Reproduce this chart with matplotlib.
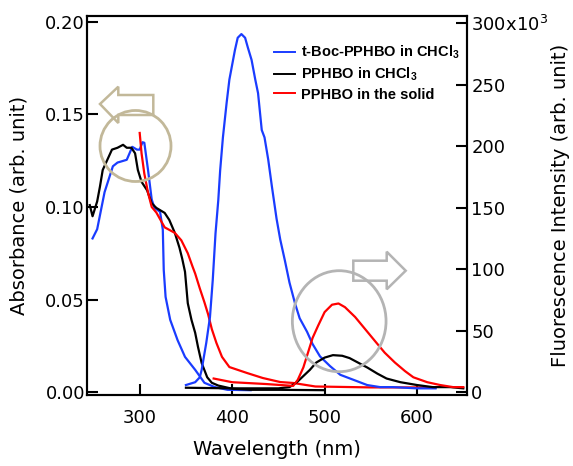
import matplotlib
matplotlib.use("Agg")
import matplotlib.pyplot as plt
from matplotlib.lines import Line2D
from matplotlib.patches import Ellipse, Polygon

plt.rcParams['font.family'] = ['DejaVu Sans']
plt.rcParams['mathtext.default'] = 'regular'

# ---------------- data ----------------
# Absorbance (left axis)
boc_abs_wl = [249, 254, 262, 271, 276, 286, 292, 297, 300, 303, 305, 309, 313, 316, 322, 325,
              326, 328, 333, 341, 349, 360, 370, 381, 395, 420]
boc_abs = [0.083, 0.088, 0.108, 0.122, 0.124, 0.1255, 0.1325, 0.131, 0.131, 0.135, 0.1347, 0.120,
           0.104, 0.0995, 0.0974, 0.0877, 0.066, 0.0514, 0.039, 0.028, 0.019, 0.012, 0.005, 0.0027,
           0.0012, 0.001]

pp_abs_wl = [246, 249, 254, 257, 260, 265, 270, 276, 282, 286, 291, 295, 298, 302, 308, 313, 318,
             327, 332, 338, 343, 346, 349, 352, 356, 360, 363, 367, 373, 378, 385, 400, 420, 450, 500]
pp_abs = [0.101, 0.095, 0.103, 0.111, 0.120, 0.1255, 0.131, 0.132, 0.1336, 0.132, 0.132, 0.129,
          0.120, 0.1136, 0.109, 0.102, 0.0995, 0.0968, 0.093, 0.086, 0.078, 0.072, 0.065, 0.048,
          0.039, 0.032, 0.0245, 0.0157, 0.008, 0.005, 0.0035, 0.0018, 0.0012, 0.0012, 0.001]

solid_abs_wl = [300, 302, 305, 309, 313, 318, 327, 338, 345, 352, 357, 360, 365, 370, 374, 378,
                383, 389, 397, 416, 433, 452, 466, 490, 550, 620]
solid_abs = [0.140, 0.129, 0.118, 0.1077, 0.100, 0.097, 0.089, 0.086, 0.082, 0.075, 0.068, 0.064,
             0.056, 0.0485, 0.042, 0.034, 0.0265, 0.019, 0.0135, 0.0103, 0.0076, 0.0054, 0.0049,
             0.003, 0.0025, 0.0025]

# Fluorescence intensity (right axis, x10^3)
boc_fl_wl = [350, 360, 365, 367, 372, 376, 379, 382, 385, 387, 390, 394, 397, 399, 403, 406, 410,
             414, 417, 421, 425, 428, 432, 435, 439, 443, 448, 452, 457, 462, 468, 473, 481, 487,
             495, 506, 517, 531, 546, 560, 574, 600, 620]
boc_fl = [5.7, 8, 12, 18, 40, 61, 91, 129, 156, 180, 207, 235, 254, 262, 278, 288, 291, 288, 280,
          270, 254, 243, 213, 207, 189, 167, 141, 124, 107, 89, 72, 60, 49, 39, 29, 21, 14, 10,
          5.7, 4, 4, 3, 3]

pp_fl_wl = [350, 400, 450, 462, 470, 477, 484, 491, 500, 509, 519, 527, 536, 546, 557, 567, 582,
            600, 617, 636, 650]
pp_fl = [3.5, 3, 3, 4, 8, 13, 18, 24, 28, 30, 29.5, 27.6, 24, 20, 15, 11, 8, 5.7, 4, 4, 3]

solid_fl_wl = [380, 400, 437, 466, 471, 477, 482, 487, 493, 500, 508, 515, 522, 533, 544, 555,
               565, 576, 587, 596, 611, 625, 639, 650]
solid_fl = [11, 8, 6.5, 5, 10, 20, 32, 44, 54, 65, 71, 72, 69, 61, 51, 41, 32, 24, 17, 12, 8,
            5.7, 4, 4]

x_ticks = [300, 400, 500, 600]
abs_ticks = [0.00, 0.05, 0.10, 0.15, 0.20]
fl_ticks = [0, 50, 100, 150, 200, 250, 300]
fl_tick_labels = ['0', '50', '100', '150', '200', '250', '300x10$^{3}$']
legend_labels = ['t-Boc-PPHBO in CHCl$_3$', 'PPHBO in CHCl$_3$', 'PPHBO in the solid']

BLUE = '#1a3cff'
BLACK = '#000000'
RED = '#ff0000'

# ---------------- figure ----------------
W, H = 573, 466
fig = plt.figure(figsize=(W / 100, H / 100), dpi=100)
L, R, B, T = 87, 467, 395, 16
ax = fig.add_axes([L / W, 1 - B / H, (R - L) / W, (B - T) / H])
ax2 = ax.twinx()

lw = 1.6
ax.plot(boc_abs_wl, boc_abs, color=BLUE, lw=lw)
ax.plot(pp_abs_wl, pp_abs, color=BLACK, lw=lw)
ax.plot(solid_abs_wl, solid_abs, color=RED, lw=lw)
ax2.plot(boc_fl_wl, boc_fl, color=BLUE, lw=lw)
ax2.plot(pp_fl_wl, pp_fl, color=BLACK, lw=lw)
ax2.plot(solid_fl_wl, solid_fl, color=RED, lw=lw)

ax.set_xlim(243, 654)
ax.set_ylim(-0.0016, 0.2032)
ax2.set_ylim(-2.4, 305.7)

ax.set_xticks(x_ticks)
ax.set_yticks(abs_ticks)
ax.set_yticklabels([f'{v:.2f}' for v in abs_ticks])
ax2.set_yticks(fl_ticks)
ax2.set_yticklabels(fl_tick_labels)

for a in (ax, ax2):
    for s in a.spines.values():
        s.set_linewidth(1.5)
        s.set_color('black')

ax.tick_params(axis='x', direction='in', length=8, width=1.5, labelsize=13, pad=10, top=False)
ax.tick_params(axis='y', direction='in', length=8, width=1.5, labelsize=13, pad=1.5)
ax2.tick_params(axis='y', direction='in', length=8, width=1.5, labelsize=13, pad=3)

ax.set_xlabel('Wavelength (nm)', fontsize=14)
ax.set_ylabel('Absorbance (arb. unit)', fontsize=14)
ax2.set_ylabel('Fluorescence Intensity (arb. unit)', fontsize=14)
ax.xaxis.set_label_coords(0.5, (B - 440) / (B - T))
ax.yaxis.set_label_coords((29 - L) / (R - L), 0.5)
ax2.yaxis.set_label_coords((551 - L) / (R - L), 0.5)

handles = [Line2D([], [], color=c, lw=1.4) for c in (BLUE, BLACK, RED)]
leg = ax2.legend(handles, legend_labels, loc='upper left',
                 bbox_to_anchor=(274 / W, 1 - 44 / H), bbox_transform=fig.transFigure,
                 frameon=False, borderpad=0, borderaxespad=0, handlelength=1.45,
                 handletextpad=0.4, labelspacing=0.3,
                 prop={'family': 'Liberation Sans', 'weight': 'bold', 'size': 10.5})

# ---------------- decorations (circles and arrows) ----------------
def px(x, y):
    return (x / 100, (H - y) / 100)

tan = '#c2b899'
gray = '#b4b4b4'
tr = fig.dpi_scale_trans

c1 = Ellipse(px(135.5, 146), 71 / 100, 71 / 100, transform=tr, fill=False,
             edgecolor=tan, lw=2)
arrow1 = Polygon([px(100, 104), px(118.3, 86.7), px(118.3, 95), px(153.3, 95),
                  px(153.3, 115), px(118.3, 115), px(118.3, 123)], closed=True,
                 transform=tr, fill=False, edgecolor=tan, lw=1.8)
c2 = Ellipse(px(339.2, 321.2), 93.7 / 100, 101 / 100, transform=tr, fill=False,
             edgecolor=gray, lw=2)
arrow2 = Polygon([px(405.7, 270.7), px(386.7, 251.7), px(386.7, 260.7), px(353.3, 260.7),
                  px(353.3, 280.7), px(386.7, 280.7), px(386.7, 289.3)], closed=True,
                 transform=tr, fill=False, edgecolor=gray, lw=1.8)
for p in (c1, arrow1, c2, arrow2):
    fig.patches.append(p)

fig.savefig('out.png', dpi=100)
